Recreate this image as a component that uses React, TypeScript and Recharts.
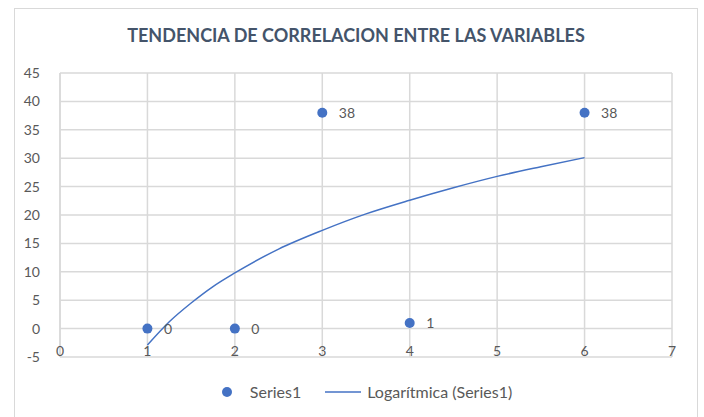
import React from "react";
import {
  CartesianGrid,
  ComposedChart,
  LabelList,
  Legend,
  Line,
  Scatter,
  XAxis,
  YAxis,
} from "recharts";

const xValues = [1, 2, 3, 4, 6];
const yValues = [0, 0, 38, 1, 38];

// trend line
const trendX = [1, 1.25, 1.5, 1.75, 2, 2.5, 3, 3.5, 4, 4.5, 5, 5.5, 6];
const trendY = [-2.9, 1.2, 4.5, 7.4, 9.8, 14.0, 17.3, 20.2, 22.6, 24.8, 26.8, 28.5, 30.1];

const xTicks = [0, 1, 2, 3, 4, 5, 6, 7];
const yTicks = [-5, 0, 5, 10, 15, 20, 25, 30, 35, 40, 45];

const points = xValues.map((x, i) => ({ x, y: yValues[i] }));
const trend = trendX.map((x, i) => ({ x, t: trendY[i] }));

const BLUE = "#4472C4";
const GRID = "#D9D9D9";
const TEXT = "#595959";
const FONT = "Lato, 'Open Sans', sans-serif";

const XTick = (props: any) => {
  const { x, y, payload } = props;
  return (
    <text x={x} y={y - 9} textAnchor="middle" fill={TEXT} fontSize={14} fontFamily={FONT}>
      {payload.value}
    </text>
  );
};

const LegendContent = () => (
  <div
    style={{
      display: "flex",
      justifyContent: "center",
      alignItems: "center",
      fontFamily: FONT,
      fontSize: 16,
      color: TEXT,
      paddingLeft: 30,
    }}
  >
    <svg width={10} height={10} style={{ marginRight: 18 }}>
      <circle cx={5} cy={5} r={5} fill={BLUE} />
    </svg>
    <span style={{ marginRight: 24 }}>Series1</span>
    <svg width={36} height={4} style={{ marginRight: 6 }}>
      <line x1={0} y1={2} x2={36} y2={2} stroke={BLUE} strokeWidth={1.5} />
    </svg>
    <span>Logarítmica (Series1)</span>
  </div>
);

export default function App() {
  return (
    <div style={{ position: "fixed", left: 0, top: 0, width: 704, height: 417, background: "#fff", overflow: "hidden" }}>
      <div
        style={{
          position: "absolute",
          left: 14,
          top: 8,
          width: 684,
          height: 430,
          border: `1px solid ${GRID}`,
          boxSizing: "border-box",
        }}
      />
      <div
        style={{
          position: "absolute",
          left: 14,
          width: 684,
          top: 24,
          textAlign: "center",
          fontFamily: FONT,
          fontWeight: 700,
          fontSize: 18,
          color: "#44546A",
        }}
      >
        TENDENCIA DE CORRELACION ENTRE LAS VARIABLES
      </div>
      <div style={{ position: "absolute", left: 0, top: 0 }}>
        <ComposedChart
          width={704}
          height={417}
          margin={{ top: 73, right: 32, left: 14, bottom: 40 }}
        >
          <CartesianGrid stroke={GRID} strokeWidth={1.5} />
          <XAxis
            type="number"
            dataKey="x"
            domain={[0, 7]}
            ticks={xTicks}
            axisLine={false}
            tickLine={false}
            height={20}
            tick={<XTick />}
            interval={0}
          />
          <YAxis
            type="number"
            domain={[-5, 45]}
            ticks={yTicks}
            width={46}
            axisLine={{ stroke: GRID, strokeWidth: 1.5 }}
            tickLine={false}
            tickMargin={14}
            tick={{ fill: TEXT, fontSize: 14, fontFamily: FONT }}
            interval={0}
          />
          <Line
            data={trend}
            dataKey="t"
            type="monotone"
            stroke={BLUE}
            strokeWidth={1.5}
            dot={false}
            activeDot={false}
            isAnimationActive={false}
          />
          <Scatter
            data={points}
            dataKey="y"
            fill={BLUE}
            shape={(p: any) => <circle cx={p.cx} cy={p.cy} r={5} fill={BLUE} />}
            isAnimationActive={false}
          >
            <LabelList
              dataKey="y"
              position="right"
              offset={12}
              fill={TEXT}
              fontSize={14}
              fontFamily={FONT}
            />
          </Scatter>
          <Legend
            layout="horizontal"
            verticalAlign="middle"
            align="center"
            content={<LegendContent />}
            wrapperStyle={{ top: 382, left: 0, width: 704 }}
          />
        </ComposedChart>
      </div>
    </div>
  );
}
